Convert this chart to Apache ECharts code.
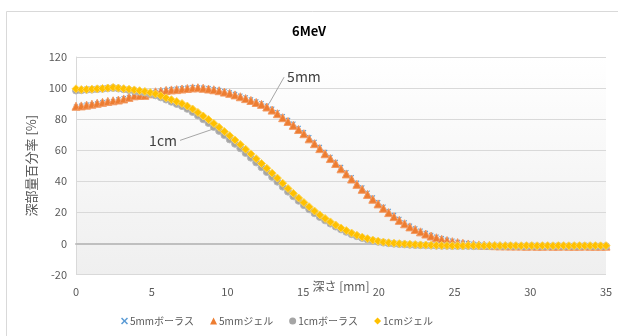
<!DOCTYPE html>
<html><head><meta charset="utf-8">
<script src="https://cdn.jsdelivr.net/npm/echarts@6/dist/echarts.min.js"></script>
<style>html,body{margin:0;padding:0;background:#fff}#c{width:618px;height:336px}</style>
</head><body><div id="c"></div>
<script>
const titleText = '6MeV';
const xAxisName = '深さ [mm]';
const yAxisName = '深部量百分率 [%]';
const seriesNames = ['5mmボーラス', '5mmジェル', '1cmボーラス', '1cmジェル'];
const xTicks = { min: 0, max: 35, interval: 5 };
const yTicks = { min: -20, max: 120, interval: 20 };

const depths = [0,0.35,0.7,1.05,1.4,1.75,2.1,2.45,2.8,3.15,3.5,3.85,4.2,4.55,4.9,5.25,5.6,5.95,6.3,6.65,7,7.35,7.7,8.05,8.4,8.75,9.1,9.45,9.8,10.15,10.5,10.85,11.2,11.55,11.9,12.25,12.6,12.95,13.3,13.65,14,14.35,14.7,15.05,15.4,15.75,16.1,16.45,16.8,17.15,17.5,17.85,18.2,18.55,18.9,19.25,19.6,19.95,20.3,20.65,21,21.35,21.7,22.05,22.4,22.75,23.1,23.45,23.8,24.15,24.5,24.85,25.2,25.55,25.9,26.25,26.6,26.95,27.3,27.65,28,28.35,28.7,29.05,29.4,29.75,30.1,30.45,30.8,31.15,31.5,31.85,32.2,32.55,32.9,33.25,33.6,33.95,34.3,34.65,35];

const bolus5mm = [88.0,88.6,89.2,89.4,90.0,90.9,91.2,91.5,92.6,93.4,
94.3,94.8,95.6,95.8,96.8,97.4,98.3,98.7,99.2,99.5,
99.8,100.2,100.5,100.4,100.2,99.8,99.3,98.8,97.9,97.2,
96.2,95.1,93.9,92.7,91.4,90.2,88.6,86.7,84.4,81.9,
79.4,77.0,74.3,71.6,68.4,65.2,62.0,58.8,55.6,52.4,
49.1,45.8,42.5,39.1,35.9,32.6,29.5,26.5,23.6,20.8,
18.2,15.7,13.5,11.4,9.6,8.1,6.7,5.3,4.2,3.2,
2.3,1.6,0.9,0.4,0.0,-0.4,-0.7,-1.0,-1.2,-1.4,
-1.5,-1.6,-1.6,-1.7,-1.7,-1.7,-1.8,-1.7,-1.7,-1.8,
-1.7,-1.8,-1.8,-1.7,-1.8,-1.7,-1.8,-1.8,-1.7,-1.8,-1.7];

const gel5mm = [88.3,88.5,89.0,89.6,90.2,90.8,91.4,91.8,92.3,93.0,
94.0,95.0,95.2,95.3,96.3,97.6,98.0,98.5,98.8,99.0,
99.4,99.7,100.1,100.2,99.9,99.4,98.9,98.3,97.4,96.6,
95.6,94.4,93.2,92.0,90.7,89.5,87.8,85.8,83.5,80.9,
78.5,76.0,73.3,70.6,67.3,64.2,61.0,57.7,54.6,51.4,
48.0,44.7,41.4,38.0,34.8,31.5,28.4,25.4,22.6,19.8,
17.2,14.8,12.6,10.6,8.9,7.4,6.0,4.7,3.6,2.6,
1.8,1.1,0.5,0.0,-0.4,-0.7,-1.0,-1.2,-1.4,-1.5,
-1.6,-1.6,-1.7,-1.7,-1.7,-1.8,-1.7,-1.8,-1.8,-1.7,
-1.8,-1.8,-1.7,-1.8,-1.8,-1.8,-1.7,-1.8,-1.8,-1.8,-1.8];

const bolus1cm = [98.4,98.6,98.9,99.0,99.3,99.5,99.8,100.1,99.7,99.2,
98.7,98.2,97.7,97.1,96.3,95.3,94.0,92.6,91.2,89.8,
88.4,86.6,84.6,82.3,79.9,77.5,75.0,72.4,69.7,66.9,
64.1,61.2,58.2,55.2,52.1,49.0,45.9,42.8,39.7,36.5,
33.3,30.3,27.4,24.6,21.9,19.4,17.0,14.8,12.7,10.8,
9.0,7.4,5.9,4.6,3.5,2.5,1.7,1.0,0.5,0.1,
-0.2,-0.5,-0.7,-0.9,-1.1,-1.2,-1.3,-1.4,-1.5,-1.6,
-1.6,-1.7,-1.7,-1.7,-1.7,-1.8,-1.7,-1.8,-1.8,-1.7,
-1.8,-1.8,-1.7,-1.8,-1.8,-1.8,-1.7,-1.8,-1.8,-1.8,
-1.8,-1.7,-1.8,-1.8,-1.8,-1.8,-1.7,-1.8,-1.8,-1.8,-1.8];

const gel1cm = [99.5,99.0,99.1,99.3,99.5,99.7,100.0,100.4,100.0,99.6,
99.2,98.8,98.3,97.8,97.1,96.2,95.1,93.7,92.5,91.3,
90.0,88.4,86.5,84.3,82.0,79.7,77.2,74.7,72.0,69.3,
66.5,63.6,60.6,57.6,54.5,51.4,48.3,45.2,42.0,38.7,
35.3,32.2,29.2,26.3,23.5,20.8,18.3,16.0,13.8,11.8,
9.9,8.2,6.6,5.2,4.0,3.0,2.1,1.4,0.8,0.4,
0.1,-0.2,-0.4,-0.6,-0.8,-1.0,-1.1,-1.2,-1.3,-1.4,
-1.4,-1.5,-1.5,-1.5,-1.4,-1.5,-1.5,-1.6,-1.5,-1.5,
-1.5,-1.6,-1.5,-1.5,-1.6,-1.5,-1.5,-1.6,-1.5,-1.5,
-1.6,-1.5,-1.5,-1.6,-1.5,-1.5,-1.6,-1.5,-1.5,-1.6,-1.5];

// annotation leader lines: [from point, to point (label side)]
const annotText = ['5mm', '1cm'];
const annotFrom = [[12.75, 90.0], [9.18, 74.0]];
const annotTo = [[13.74, 107.0], [6.87, 66.3]];
const annotSide = ['right', 'left'];

const xSym = 'path://M1.5,0L5,3.5L8.5,0L10,1.5L6.5,5L10,8.5L8.5,10L5,6.5L1.5,10L0,8.5L3.5,5L0,1.5Z';
const FONT = '"Noto Sans CJK JP", "Noto Sans", sans-serif';

const pair = arr => depths.map((d, i) => [d, arr[i]]);

const styles = [
  { symbol: xSym, size: 5, color: '#5B9BD5', border: '#5B9BD5', bw: 0 },
  { symbol: 'triangle', size: 8, color: '#ED7D31', border: '#F29A63', bw: 1 },
  { symbol: 'circle', size: 7, color: '#A5A5A5', border: '#B8B8B8', bw: 1 },
  { symbol: 'diamond', size: 8, color: '#FFC000', border: '#FFD550', bw: 1 }
];
const dataSets = [bolus5mm, gel5mm, bolus1cm, gel1cm];

const series = dataSets.map((arr, k) => ({
  name: seriesNames[k],
  type: 'scatter',
  data: pair(arr),
  symbol: styles[k].symbol,
  symbolSize: styles[k].size,
  itemStyle: { color: styles[k].color, borderColor: styles[k].border, borderWidth: styles[k].bw, opacity: 1 },
  emphasis: { disabled: true },
  z: 3 + k
}));

annotText.forEach((t, k) => {
  series.push({
    type: 'line',
    silent: true,
    data: [annotFrom[k], { value: annotTo[k], label: { show: true, position: annotSide[k], formatter: t, distance: 3, color: '#404040', fontSize: 14, fontFamily: FONT } }],
    symbol: 'circle',
    symbolSize: 0.1,
    lineStyle: { color: '#A6A6A6', width: 1 },
    itemStyle: { color: 'rgba(0,0,0,0)' },
    z: 10
  });
});

const chart = echarts.init(document.getElementById('c'), null, { renderer: 'canvas' });
chart.setOption({
  animation: false,
  backgroundColor: '#fff',
  title: { text: titleText, left: 'center', top: 20, textStyle: { fontSize: 13, fontWeight: 'bold', color: '#000', fontFamily: FONT } },
  legend: {
    bottom: 5, left: 116, itemGap: 16, itemWidth: 7, itemHeight: 7,
    data: seriesNames.map((n, k) => ({ name: n, icon: styles[k].symbol, itemStyle: { color: styles[k].color, borderWidth: 0 } })),
    textStyle: { fontSize: 10, color: '#595959', fontFamily: FONT, padding: [0, 0, 0, -3] }
  },
  grid: {
    left: 76, right: 12, top: 57, bottom: 61.6, show: true, borderWidth: 0,
    backgroundColor: new echarts.graphic.LinearGradient(0, 0, 0, 1, [
      { offset: 0, color: '#FFFFFF' }, { offset: 1, color: '#EFEFEF' }
    ])
  },
  xAxis: {
    type: 'value', min: xTicks.min, max: xTicks.max, interval: xTicks.interval,
    name: xAxisName, nameLocation: 'middle', nameGap: 6, nameMoveOverlap: false,
    nameTextStyle: { fontSize: 12, color: '#595959', fontFamily: FONT, verticalAlign: 'top' },
    axisLine: { show: true, onZero: true, lineStyle: { color: '#BFBFBF', width: 2 } },
    axisTick: { show: false },
    splitLine: { show: false },
    axisLabel: { fontSize: 11, color: '#595959', margin: 12, fontFamily: FONT }
  },
  yAxis: {
    type: 'value', min: yTicks.min, max: yTicks.max, interval: yTicks.interval,
    name: yAxisName, nameLocation: 'middle', nameGap: 38, nameRotate: 90,
    nameTextStyle: { fontSize: 13, color: '#595959', fontFamily: FONT },
    axisLine: { show: true, lineStyle: { color: '#D9D9D9', width: 1 } },
    axisTick: { show: false },
    splitLine: { show: true, lineStyle: { color: '#D9D9D9', width: 1 } },
    axisLabel: { fontSize: 11, color: '#595959', margin: 9, fontFamily: FONT }
  },
  graphic: [{
    type: 'rect', left: 4, top: 9, silent: true, z: -1,
    shape: { width: 630, height: 340 },
    style: { fill: 'none', stroke: '#D9D9D9', lineWidth: 1 }
  }],
  series: series
});
</script></body></html>
